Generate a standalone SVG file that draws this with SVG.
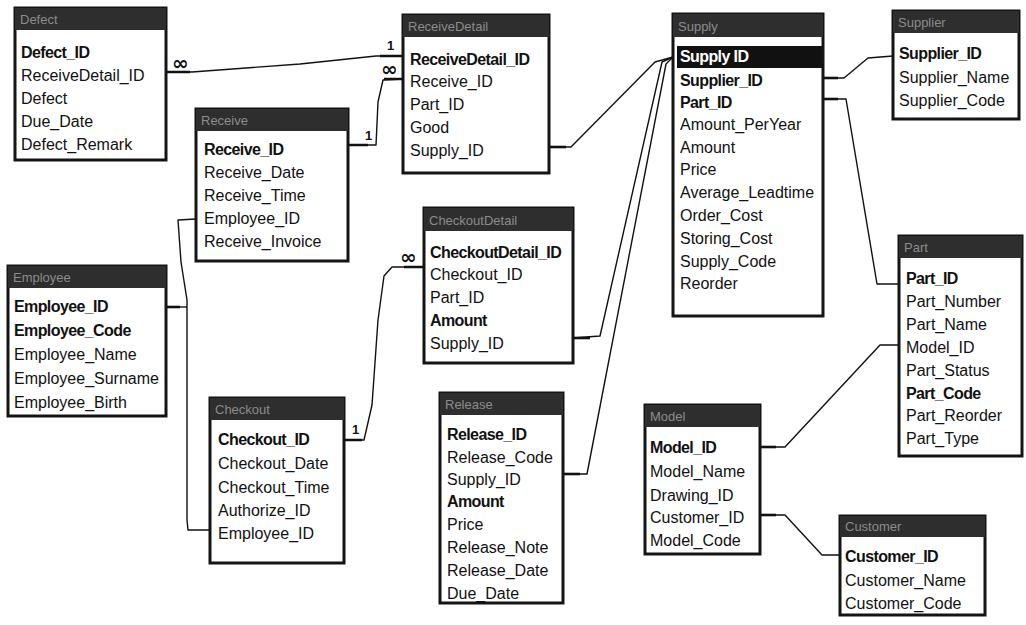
<svg xmlns="http://www.w3.org/2000/svg" width="1026" height="625" viewBox="0 0 1026 625">
  <style>
    .frame { fill: #ffffff; stroke: #141414; stroke-width: 3; }
    .bar { fill: #2e2e2e; }
    .title { font-family: "Liberation Sans", Arial, sans-serif; font-size: 13px; fill: #8c8c8c; }
    .f { font-family: "Liberation Sans", Arial, sans-serif; font-size: 16px; fill: #111; }
    .k { font-weight: bold; letter-spacing: -0.6px; }
    .sel { fill: #111; }
    .selt { fill: #ffffff; font-weight: bold; letter-spacing: -0.6px; }
    .rel { fill: none; stroke: #111; stroke-width: 1.4; stroke-linejoin: round; }
    .stub { fill: none; stroke: #111; stroke-width: 2.6; }
    .card { font-family: "Liberation Sans", Arial, sans-serif; font-size: 13px; font-weight: bold; fill: #111; }
    .many { font-family: "DejaVu Sans", sans-serif; font-size: 20px; font-weight: bold; fill: #111; }
  </style>

  <rect width="1026" height="625" fill="#ffffff"/>

  <!-- relationship lines -->
  <g id="connectors">
    <!-- Defect.ReceiveDetail_ID -> ReceiveDetail.ReceiveDetail_ID -->
    <path class="rel" d="M166,72 L192,72 L300,64 L376,56 L403,56"/>
    <path class="stub" d="M166,72 H190 M380,56 H403"/>
    <text class="many" x="172" y="70">∞</text>
    <text class="card" x="387" y="50">1</text>
    <text class="many" x="381" y="76">∞</text>

    <!-- Receive.Receive_ID -> ReceiveDetail.Receive_ID -->
    <path class="rel" d="M348,145 L376,145 L378,102 L383,80 L403,79"/>
    <path class="stub" d="M348,145 H368 M384,79 H403"/>
    <text class="card" x="365" y="140">1</text>

    <!-- Employee.Employee_ID -> Receive.Employee_ID / Checkout.Employee_ID -->
    <path class="rel" d="M196,219 L178,220 L181,262 L187,300 L187,520 L188,530 L210,530"/>
    <path class="rel" d="M166,307 L187,307"/>
    <path class="stub" d="M166,307 H180"/>

    <!-- Checkout.Checkout_ID -> CheckoutDetail.Checkout_ID -->
    <path class="rel" d="M344,440 L364,440 L372,405 L378,320 L384,276 L392,267 L424,267"/>
    <path class="stub" d="M344,440 H362 M404,267 H424"/>
    <text class="card" x="352" y="434">1</text>
    <text class="many" x="400" y="264">∞</text>

    <!-- ReceiveDetail.Supply_ID -> Supply.Supply_ID -->
    <path class="rel" d="M549,147 L571,147 L655,62 L673,57"/>
    <path class="stub" d="M549,147 H566"/>

    <!-- CheckoutDetail.Supply_ID -> Supply.Supply_ID -->
    <path class="rel" d="M573,338 L600,336 L662,62 L673,57"/>
    <path class="stub" d="M573,338 H590"/>

    <!-- Release.Supply_ID -> Supply.Supply_ID -->
    <path class="rel" d="M563,474 L587,474 L666,64 L673,57"/>
    <path class="stub" d="M563,474 H580"/>

    <!-- Supply.Supplier_ID -> Supplier.Supplier_ID -->
    <path class="rel" d="M823,78 L844,78 L868,58 L893,56"/>
    <path class="stub" d="M823,78 H838"/>

    <!-- Supply.Part_ID -> Part.Part_ID -->
    <path class="rel" d="M823,99 L846,99 L877,284 L899,284"/>
    <path class="stub" d="M823,99 H838"/>

    <!-- Model.Model_ID -> Part.Model_ID -->
    <path class="rel" d="M760,447 L785,447 L880,345 L899,345"/>
    <path class="stub" d="M760,447 H776"/>

    <!-- Model.Customer_ID -> Customer.Customer_ID -->
    <path class="rel" d="M760,515 L785,515 L822,555 L840,555"/>
    <path class="stub" d="M760,515 H776"/>
  </g>

  <!-- Defect -->
  <g id="t-defect">
    <rect class="frame" x="15" y="8" width="151" height="152"/>
    <rect class="bar" x="15" y="8" width="151" height="22"/>
    <text class="title" x="20" y="24">Defect</text>
    <text class="f k" x="21" y="58">Defect_ID</text>
    <text class="f" x="21" y="81">ReceiveDetail_ID</text>
    <text class="f" x="21" y="104">Defect</text>
    <text class="f" x="21" y="127">Due_Date</text>
    <text class="f" x="21" y="150">Defect_Remark</text>
  </g>

  <!-- ReceiveDetail -->
  <g id="t-receivedetail">
    <rect class="frame" x="403" y="15" width="146" height="158"/>
    <rect class="bar" x="403" y="15" width="146" height="22"/>
    <text class="title" x="408" y="31">ReceiveDetail</text>
    <text class="f k" x="410" y="65">ReceiveDetail_ID</text>
    <text class="f" x="410" y="87">Receive_ID</text>
    <text class="f" x="410" y="110">Part_ID</text>
    <text class="f" x="410" y="133">Good</text>
    <text class="f" x="410" y="156">Supply_ID</text>
  </g>

  <!-- Receive -->
  <g id="t-receive">
    <rect class="frame" x="196" y="109" width="152" height="152"/>
    <rect class="bar" x="196" y="109" width="152" height="22"/>
    <text class="title" x="201" y="125">Receive</text>
    <text class="f k" x="204" y="155" fill="#3a2a2a">Receive_ID</text>
    <text class="f" x="204" y="178">Receive_Date</text>
    <text class="f" x="204" y="201">Receive_Time</text>
    <text class="f" x="204" y="224">Employee_ID</text>
    <text class="f" x="204" y="247">Receive_Invoice</text>
  </g>

  <!-- Employee -->
  <g id="t-employee">
    <rect class="frame" x="8" y="266" width="158" height="150"/>
    <rect class="bar" x="8" y="266" width="158" height="22"/>
    <text class="title" x="13" y="282">Employee</text>
    <text class="f k" x="14" y="312">Employee_ID</text>
    <text class="f k" x="14" y="336">Employee_Code</text>
    <text class="f" x="14" y="360">Employee_Name</text>
    <text class="f" x="14" y="384">Employee_Surname</text>
    <text class="f" x="14" y="408">Employee_Birth</text>
  </g>

  <!-- CheckoutDetail -->
  <g id="t-checkoutdetail">
    <rect class="frame" x="424" y="208" width="149" height="155"/>
    <rect class="bar" x="424" y="208" width="149" height="23"/>
    <text class="title" x="429" y="225">CheckoutDetail</text>
    <text class="f k" x="430" y="258">CheckoutDetail_ID</text>
    <text class="f" x="430" y="280">Checkout_ID</text>
    <text class="f" x="430" y="303">Part_ID</text>
    <text class="f k" x="430" y="326">Amount</text>
    <text class="f" x="430" y="349">Supply_ID</text>
  </g>

  <!-- Checkout -->
  <g id="t-checkout">
    <rect class="frame" x="210" y="398" width="134" height="165"/>
    <rect class="bar" x="210" y="398" width="134" height="22"/>
    <text class="title" x="215" y="414">Checkout</text>
    <text class="f k" x="218" y="445">Checkout_ID</text>
    <text class="f" x="218" y="469">Checkout_Date</text>
    <text class="f" x="218" y="493">Checkout_Time</text>
    <text class="f" x="218" y="516">Authorize_ID</text>
    <text class="f" x="218" y="539">Employee_ID</text>
  </g>

  <!-- Release -->
  <g id="t-release">
    <rect class="frame" x="440" y="393" width="123" height="210"/>
    <rect class="bar" x="440" y="393" width="123" height="22"/>
    <text class="title" x="445" y="409">Release</text>
    <text class="f k" x="447" y="440">Release_ID</text>
    <text class="f" x="447" y="463">Release_Code</text>
    <text class="f" x="447" y="485">Supply_ID</text>
    <text class="f k" x="447" y="507">Amount</text>
    <text class="f" x="447" y="530">Price</text>
    <text class="f" x="447" y="553">Release_Note</text>
    <text class="f" x="447" y="576">Release_Date</text>
    <text class="f" x="447" y="599">Due_Date</text>
  </g>

  <!-- Supply -->
  <g id="t-supply">
    <rect class="frame" x="673" y="14" width="150" height="302"/>
    <rect class="bar" x="673" y="14" width="150" height="23"/>
    <text class="title" x="678" y="31">Supply</text>
    <rect class="sel" x="677" y="46" width="145" height="22"/>
    <text class="f selt" x="680" y="62">Supply ID</text>
    <text class="f k" x="680" y="86">Supplier_ID</text>
    <text class="f k" x="680" y="108">Part_ID</text>
    <text class="f" x="680" y="130">Amount_PerYear</text>
    <text class="f" x="680" y="153">Amount</text>
    <text class="f" x="680" y="175">Price</text>
    <text class="f" x="680" y="198">Average_Leadtime</text>
    <text class="f" x="680" y="221">Order_Cost</text>
    <text class="f" x="680" y="244">Storing_Cost</text>
    <text class="f" x="680" y="267">Supply_Code</text>
    <text class="f" x="680" y="289">Reorder</text>
  </g>

  <!-- Supplier -->
  <g id="t-supplier">
    <rect class="frame" x="893" y="11" width="126" height="108"/>
    <rect class="bar" x="893" y="11" width="126" height="22"/>
    <text class="title" x="898" y="27">Supplier</text>
    <text class="f k" x="899" y="59">Supplier_ID</text>
    <text class="f" x="899" y="83">Supplier_Name</text>
    <text class="f" x="899" y="106">Supplier_Code</text>
  </g>

  <!-- Part -->
  <g id="t-part">
    <rect class="frame" x="899" y="236" width="123" height="220"/>
    <rect class="bar" x="899" y="236" width="123" height="22"/>
    <text class="title" x="904" y="252">Part</text>
    <text class="f k" x="906" y="284">Part_ID</text>
    <text class="f" x="906" y="307">Part_Number</text>
    <text class="f" x="906" y="330">Part_Name</text>
    <text class="f" x="906" y="353">Model_ID</text>
    <text class="f" x="906" y="376">Part_Status</text>
    <text class="f k" x="906" y="399">Part_Code</text>
    <text class="f" x="906" y="421">Part_Reorder</text>
    <text class="f" x="906" y="444">Part_Type</text>
  </g>

  <!-- Model -->
  <g id="t-model">
    <rect class="frame" x="645" y="405" width="115" height="149"/>
    <rect class="bar" x="645" y="405" width="115" height="22"/>
    <text class="title" x="650" y="421">Model</text>
    <text class="f k" x="650" y="453">Model_ID</text>
    <text class="f" x="650" y="477">Model_Name</text>
    <text class="f" x="650" y="501">Drawing_ID</text>
    <text class="f" x="650" y="523">Customer_ID</text>
    <text class="f" x="650" y="546">Model_Code</text>
  </g>

  <!-- Customer -->
  <g id="t-customer">
    <rect class="frame" x="840" y="516" width="145" height="99"/>
    <rect class="bar" x="840" y="516" width="145" height="21"/>
    <text class="title" x="845" y="531">Customer</text>
    <text class="f k" x="845" y="562">Customer_ID</text>
    <text class="f" x="845" y="586">Customer_Name</text>
    <text class="f" x="845" y="609">Customer_Code</text>
  </g>
</svg>
